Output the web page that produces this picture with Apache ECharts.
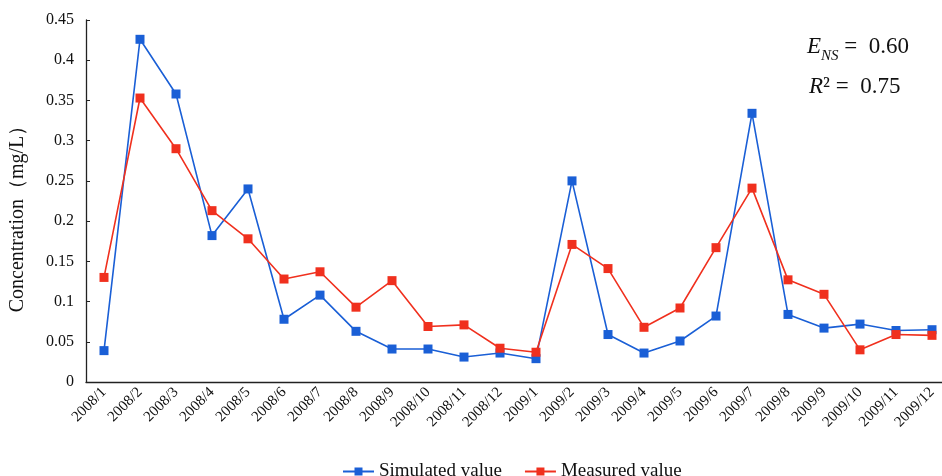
<!DOCTYPE html>
<html>
<head>
<meta charset="utf-8">
<script src="https://cdn.jsdelivr.net/npm/echarts@6/dist/echarts.min.js"></script>
<style>html,body{margin:0;padding:0;background:#fff;}#chart{width:942px;height:476px;}</style>
</head>
<body>
<div id="chart"></div>
<script>
const categories = ['2008/1','2008/2','2008/3','2008/4','2008/5','2008/6','2008/7','2008/8','2008/9','2008/10','2008/11','2008/12',
  '2009/1','2009/2','2009/3','2009/4','2009/5','2009/6','2009/7','2009/8','2009/9','2009/10','2009/11','2009/12'];
const simulated = [0.039,0.426,0.358,0.182,0.240,0.078,0.108,0.063,0.041,0.041,0.031,0.036,
  0.029,0.250,0.059,0.036,0.051,0.082,0.334,0.084,0.067,0.072,0.064,0.065];
const measured = [0.130,0.353,0.290,0.213,0.178,0.128,0.137,0.093,0.126,0.069,0.071,0.042,
  0.037,0.171,0.141,0.068,0.092,0.167,0.241,0.127,0.109,0.040,0.059,0.058];
const yTicks = {min:0, max:0.45, interval:0.05};

const serif = '"Liberation Serif","Times New Roman",serif';
const chart = echarts.init(document.getElementById('chart'), null, {renderer:'canvas'});
chart.setOption({
  backgroundColor:'#fff',
  animation:false,
  grid:{left:86, top:20, bottom:94, right:-8, containLabel:false, outerBoundsMode:'none'},
  legend:{
    left:337, top:457,
    itemWidth:31, itemHeight:10, itemGap:22,
    textStyle:{fontFamily:serif, fontSize:19, color:'#111'},
    data:['Simulated value','Measured value']
  },
  xAxis:{
    type:'category', data:categories, boundaryGap:true,
    axisLine:{lineStyle:{color:'#222', width:1.3}},
    axisTick:{inside:true, length:4, lineStyle:{color:'#222'}},
    axisLabel:{rotate:45, margin:8, interval:0, fontFamily:serif, fontSize:15, color:'#111'}
  },
  yAxis:{
    type:'value', min:yTicks.min, max:yTicks.max, interval:yTicks.interval,
    name:'Concentration（mg/L）', nameLocation:'middle', nameGap:58, nameRotate:90,
    nameTextStyle:{fontFamily:serif, fontSize:20, color:'#111', padding:[0,0,0,-26]},
    axisLine:{show:true, lineStyle:{color:'#222', width:1.3}},
    axisTick:{show:true, inside:true, length:4, lineStyle:{color:'#222'}},
    splitLine:{show:false},
    axisLabel:{fontFamily:serif, fontSize:16, color:'#111', margin:12}
  },
  series:[
    {name:'Simulated value', type:'line', data:simulated, symbol:'rect', symbolSize:9,
     itemStyle:{color:'#1a5fd6'}, lineStyle:{color:'#1a5fd6', width:1.6}},
    {name:'Measured value', type:'line', data:measured, symbol:'rect', symbolSize:9,
     itemStyle:{color:'#f0301e'}, lineStyle:{color:'#f0301e', width:1.6}}
  ],
  graphic:[
    {type:'text', left:807, top:35, style:{
      text:'{i|E}{s|NS}{n| =  0.60}',
      rich:{
        i:{fontFamily:serif, fontStyle:'italic', fontSize:23, fill:'#111', verticalAlign:'bottom', lineHeight:27},
        s:{fontFamily:serif, fontStyle:'italic', fontSize:15, fill:'#111', verticalAlign:'bottom', lineHeight:18, padding:[0,0,-6,0]},
        n:{fontFamily:serif, fontSize:23, fill:'#111', verticalAlign:'bottom', lineHeight:27}
      }}},
    {type:'text', left:809, top:75, style:{
      text:'{i|R}{n|² =  0.75}',
      rich:{
        i:{fontFamily:serif, fontStyle:'italic', fontSize:23, fill:'#111'},
        n:{fontFamily:serif, fontSize:23, fill:'#111'}
      }}}
  ]
});
</script>
</body>
</html>
